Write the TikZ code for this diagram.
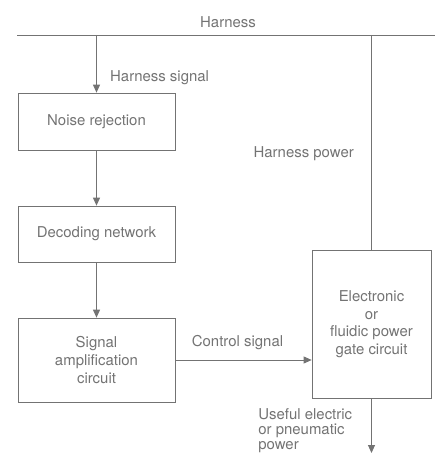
\documentclass[tikz,border=0pt]{standalone}
\usepackage{fontspec}
\setmainfont{TeX Gyre Heros}
\usetikzlibrary{positioning, arrows.meta, calc}

\begin{document}
\begin{tikzpicture}[
    every node/.style={font=\fontsize{8.5}{10}\selectfont, text=black!55},
    block/.style={rectangle, draw=black!55, minimum width=3.14cm, align=center, inner sep=2pt},
    gate/.style={rectangle, draw=black!55, minimum width=2.38cm, minimum height=2.96cm, align=center},
    wire/.style={draw=black!55, line width=0.5pt},
    arrow/.style={wire, -{Triangle[length=1.6mm, width=1.4mm]}}]

  \useasboundingbox (0,0) rectangle (8.74,-9.1);

  % harness bus
  \coordinate (busL) at (0.34,-0.7);
  \coordinate (busR) at (8.7,-0.7);
  \draw[wire] (busL) -- (busR);
  \node (harness) at (4.56,-0.44) {Harness};

  \node[block, minimum height=1.14cm] (noise) at (1.93,-2.43) {Noise rejection};
  \node[block, minimum height=1.12cm] (decode) at (1.93,-4.68) {Decoding network};
  \node[block, minimum height=1.68cm] (amp) at (1.93,-7.2) {Signal\\amplification\\circuit};

  \node[gate] (powgate) at (7.43,-6.48) {Electronic\\or\\fluidic power\\gate circuit};

  \coordinate (out) at (7.43,-9.06);

  \draw[arrow] (noise.north |- busL) -- (noise.north);
  \node[anchor=west] (hsig) at (2.08,-1.56) {Harness signal};
  \draw[arrow] (noise.south) -- (decode.north);
  \draw[arrow] (decode.south) -- (amp.north);
  \draw[arrow] (amp.east) -- (amp.east -| powgate.west);
  \node (ctrl) at (4.75,-6.86) {Control signal};

  \draw[wire] (powgate.north |- busL) -- (powgate.north);
  \node[anchor=east] (hpow) at (7.2,-3.07) {Harness power};

  \draw[arrow] (powgate.south) -- (out);
  \node[anchor=north west, align=left, inner sep=0pt, font=\fontsize{8.5}{8.6}\selectfont] (useful) at (5.16,-8.16) {Useful electric\\or pneumatic\\power};
\end{tikzpicture}
\end{document}
